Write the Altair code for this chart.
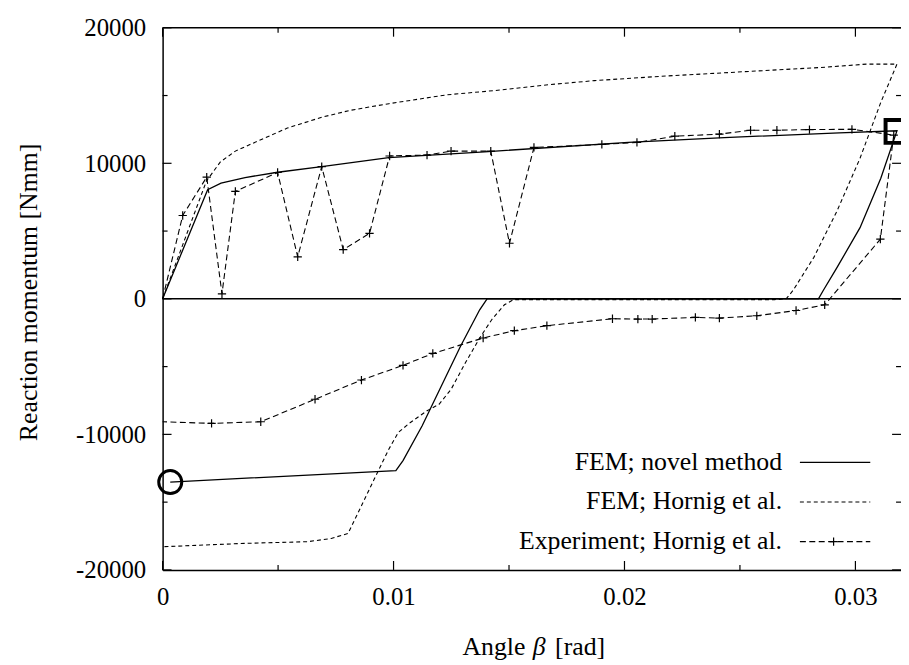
import altair as alt
import pandas as pd

# ---------------- data ----------------
novel_x = [0, 0.00195, 0.00253, 0.00357, 0.00498, 0.00689, 0.00979, 0.01394, 0.02017,
           0.02432, 0.0293, 0.0318, 0.0311, 0.0302, 0.0292, 0.0286, 0.0284, 0.01405,
           0.01373, 0.0129, 0.01207, 0.01124, 0.01041, 0.0101, 0.00033]
novel_y = [0, 8050, 8540, 8950, 9340, 9760, 10420, 10850, 11540,
           11900, 12240, 12400, 8900, 5250, 2300, 600, 0, 0,
           -810, -3500, -6430, -9360, -11930, -12670, -13520]

hornig_x = [0, 0.0019, 0.0025, 0.00315, 0.0042, 0.0054, 0.0069, 0.0081, 0.0098, 0.0123,
            0.0144, 0.0166, 0.0187, 0.0216, 0.0254, 0.0285, 0.0305, 0.0318, 0.0311, 0.0302,
            0.0292, 0.0282, 0.0273, 0.0270, 0.0265, 0.0152, 0.0148, 0.01425, 0.01373, 0.01311,
            0.01249, 0.01197, 0.01145, 0.01073, 0.01021, 0.0098, 0.00917, 0.00855, 0.00803,
            0.0073, 0.00627, 0.00357, 0]
hornig_y = [0, 8700, 10100, 10900, 11700, 12600, 13400, 13900, 14400, 15050,
            15370, 15780, 16100, 16420, 16780, 17070, 17320, 17320, 14500, 10370,
            6470, 3060, 620, 0, -60, -60, -440, -1540, -2890, -4720,
            -6680, -7780, -8260, -9120, -9850, -11080, -13280, -15480, -17310,
            -17680, -17920, -18040, -18290]

exp_x = [0, 0.00087, 0.00191, 0.00257, 0.00315, 0.00498, 0.00585, 0.00689, 0.00782, 0.00896,
         0.00983, 0.01145, 0.01249, 0.01421, 0.01502, 0.01608, 0.01902, 0.02054, 0.02218,
         0.02411, 0.02546, 0.0266, 0.02801, 0.02985, 0.03166, 0.03108, 0.02867, 0.02743,
         0.02573, 0.02411, 0.02307, 0.0212, 0.02058, 0.01948, 0.01664, 0.01523, 0.01388,
         0.0117, 0.01041, 0.00861, 0.0066, 0.00425, 0.00212, 0]
exp_y = [0, 6150, 8980, 370, 7930, 9320, 3100, 9760, 3630, 4830,
         10540, 10610, 10900, 10900, 4100, 11170, 11390, 11540, 12000,
         12150, 12440, 12440, 12490, 12510, 12080, 4400, -440, -860,
         -1250, -1420, -1370, -1490, -1490, -1470, -1980, -2350, -2890,
         -4030, -4910, -5990, -7410, -9070, -9190, -9070]

square_x = [0.0318]
square_y = [12350]
circle_x = [0.00033]
circle_y = [-13520]

x_labels = [0, 0.01, 0.02, 0.03]
x_minor = [0.005, 0.015, 0.025]
y_labels = [-20000, -10000, 0, 10000, 20000]
y_minor = [-15000, -5000, 5000, 15000]

legend_labels = ["FEM; novel method", "FEM; Hornig et al.", "Experiment; Hornig et al."]
x_title_parts = ["Angle", "\u03b2", "[rad]"]
y_title = "Reaction momentum [Nmm]"

# ---------------- layout ----------------
W, H = 745, 547
XMAX = 0.031974
FONT = "Liberation Serif"
PLUS = "M-1,0H1M0,-1V1"

xs = alt.Scale(domain=[0, XMAX], nice=False, zero=False)
ys = alt.Scale(domain=[-20000, 20000], nice=False, zero=False)


def sdf(xv, yv):
    return pd.DataFrame({"x": xv, "y": yv, "i": list(range(len(xv)))})


x_axis = alt.Axis(values=x_labels, format="~g", title=None, ticks=False,
                  labelPadding=15, labelFontSize=25, labelFont=FONT,
                  labelColor="black", domainColor="black", domainWidth=1.5, grid=False,
                  labelFlush=False)
y_axis = alt.Axis(values=y_labels, labelExpr="'' + datum.value", title=y_title,
                  ticks=False, labelPadding=17, labelFontSize=25,
                  labelFont=FONT, labelColor="black",
                  domainColor="black", domainWidth=1.5, grid=False,
                  titleAngle=270, titleX=-127.5, titleY=266.5, titleAlign="center",
                  titleBaseline="alphabetic", titleFontSize=26, titleFont=FONT,
                  titleFontWeight="normal", titleColor="black")


def X():
    return alt.X("x:Q", scale=xs, axis=x_axis)


def Y():
    return alt.Y("y:Q", scale=ys, axis=y_axis)


novel = alt.Chart(sdf(novel_x, novel_y)).mark_line(
    color="black", strokeWidth=1.3).encode(x=X(), y=Y(), order="i:Q")
hornig = alt.Chart(sdf(hornig_x, hornig_y)).mark_line(
    color="black", strokeWidth=1.1, strokeDash=[4, 3]).encode(x=X(), y=Y(), order="i:Q")
exp_line = alt.Chart(sdf(exp_x, exp_y)).mark_line(
    color="black", strokeWidth=1.1, strokeDash=[6, 3.5]).encode(x=X(), y=Y(), order="i:Q")
exp_pts = alt.Chart(sdf(exp_x, exp_y)).transform_filter("datum.x > 0").mark_point(
    shape=PLUS, size=70, color="black", strokeWidth=1.2, filled=False, opacity=1
).encode(x=X(), y=Y())

square = alt.Chart(sdf(square_x, square_y)).mark_point(
    shape="square", size=530, color="black", strokeWidth=4, filled=False, opacity=1
).encode(x=X(), y=Y())
circle = alt.Chart(sdf(circle_x, circle_y)).mark_point(
    shape="circle", size=540, color="black", strokeWidth=3, filled=False, opacity=1
).encode(x=X(), y=Y())

zero_line = alt.Chart(pd.DataFrame({"y": [0]})).mark_rule(
    color="black", strokeWidth=1.5).encode(y=Y(), x=alt.value(0), x2=alt.value(W))
top_line = alt.Chart(pd.DataFrame({"y": [20000]})).mark_rule(
    color="black", strokeWidth=1.5).encode(y=Y(), x=alt.value(0), x2=alt.value(W))


def xticks(vals, ln):
    d = pd.DataFrame({"x": vals})
    b = alt.Chart(d).mark_rule(color="black", strokeWidth=1.2).encode(
        x=X(), y=alt.value(H), y2=alt.value(H - ln))
    t = alt.Chart(d).mark_rule(color="black", strokeWidth=1.2).encode(
        x=X(), y=alt.value(0), y2=alt.value(ln))
    return [b, t]


def yticks(vals, ln):
    d = pd.DataFrame({"y": vals})
    l = alt.Chart(d).mark_rule(color="black", strokeWidth=1.2).encode(
        y=Y(), x=alt.value(0), x2=alt.value(ln))
    r = alt.Chart(d).mark_rule(color="black", strokeWidth=1.2).encode(
        y=Y(), x=alt.value(W - ln), x2=alt.value(W))
    return [l, r]


ticks = xticks(x_labels, 9) + xticks(x_minor, 5) + yticks(y_labels, 9) + yticks(y_minor, 5)


def text_layer(t, x, y, align, style="normal", size=26):
    return alt.Chart(pd.DataFrame({"t": [t]})).mark_text(
        align=align, baseline="alphabetic", font=FONT, fontSize=size, fontStyle=style,
        color="black").encode(text="t:N", x=alt.value(x), y=alt.value(y))


xtitle = [
    text_layer(x_title_parts[0], 366, 633, "right"),
    text_layer(x_title_parts[1], 380, 633, "center", "italic"),
    text_layer(x_title_parts[2], 396, 633, "left"),
]

leg_text_y = [446, 486, 526]
leg_line_y = [438.5, 478.5, 518.5]
legend = []
for k, lab in enumerate(legend_labels):
    legend.append(text_layer(lab, 625, leg_text_y[k], "right"))
dashes = [[1, 0], [4, 3], [6, 3.5]]
for k in range(3):
    legend.append(alt.Chart(pd.DataFrame({"k": [k]})).mark_rule(
        color="black", strokeWidth=1.2, strokeDash=dashes[k]).encode(
        x=alt.value(643), x2=alt.value(714), y=alt.value(leg_line_y[k])))
legend.append(alt.Chart(pd.DataFrame({"k": [0]})).mark_point(
    shape=PLUS, size=70, color="black", strokeWidth=1.2, filled=False, opacity=1).encode(
    x=alt.value(677), y=alt.value(leg_line_y[2])))

chart = alt.layer(
    novel, hornig, exp_line, exp_pts, square, circle, zero_line, top_line,
    *ticks, *xtitle, *legend
).properties(
    width=W, height=H,
    background="white",
    autosize=alt.AutoSizeParams(type="none"),
    padding={"left": 156, "top": 17, "right": 0, "bottom": 93},
).configure_view(stroke=None)

chart.save("out.html", embed_options={"renderer": "svg", "actions": False})
